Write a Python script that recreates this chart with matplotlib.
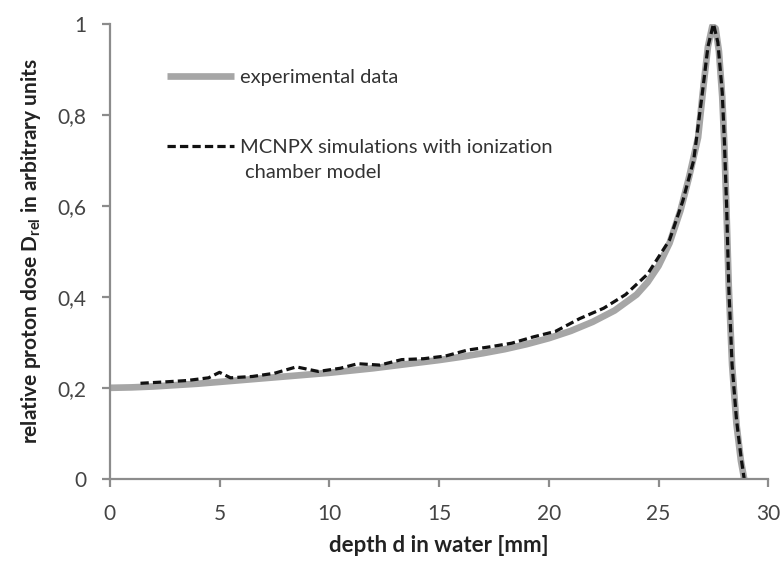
import numpy as np
import matplotlib
matplotlib.use("Agg")
import matplotlib.pyplot as plt

plt.rcParams['font.family'] = ['Lato', 'DejaVu Sans']

# measured depth dose (ionization chamber in water)
exp_depth = [0.0, 1.0, 2.0, 3.0, 4.0, 5.0, 6.0, 7.0, 8.0, 9.0, 10.0, 11.0, 12.0,
             13.0, 14.0, 15.0, 16.0, 17.0, 18.0, 19.0, 20.0, 21.0, 22.0, 23.0,
             24.0, 24.5, 25.0, 25.5, 26.0, 26.4, 26.8, 27.05, 27.25, 27.45,
             27.6, 27.75, 27.9, 28.0, 28.1, 28.2, 28.35, 28.55, 28.75, 28.9]
exp_dose = [0.200, 0.201, 0.203, 0.206, 0.209, 0.213, 0.217, 0.221, 0.225, 0.229,
            0.233, 0.238, 0.243, 0.249, 0.255, 0.261, 0.268, 0.276, 0.285, 0.296,
            0.309, 0.325, 0.345, 0.370, 0.405, 0.432, 0.468, 0.518, 0.590, 0.665,
            0.750, 0.865, 0.950, 0.995, 0.990, 0.940, 0.840, 0.730, 0.580, 0.420,
            0.250, 0.120, 0.040, 0.000]

# MCNPX simulation with ionization chamber model
sim_depth = [1.4, 2.5, 3.5, 4.5, 5.0, 5.5, 6.5, 7.5, 8.5, 9.5, 10.5, 11.3, 12.3,
             13.3, 14.3, 15.3, 16.3, 17.3, 18.3, 19.3, 20.3, 21.4, 22.5, 23.5,
             24.5, 25.5, 26.1, 26.6, 27.0, 27.25, 27.5, 27.7, 27.9, 28.0, 28.1,
             28.2, 28.35, 28.55, 28.75, 28.9]
sim_dose = [0.210, 0.213, 0.216, 0.222, 0.234, 0.222, 0.225, 0.232, 0.246, 0.236,
            0.243, 0.253, 0.250, 0.262, 0.264, 0.270, 0.283, 0.290, 0.298, 0.312,
            0.324, 0.352, 0.375, 0.405, 0.450, 0.525, 0.610, 0.700, 0.850, 0.950,
            1.000, 0.960, 0.850, 0.740, 0.600, 0.420, 0.250, 0.130, 0.050, 0.000]

x_ticks = [0, 5, 10, 15, 20, 25, 30]
y_ticks = [0, 0.2, 0.4, 0.6, 0.8, 1.0]
y_tick_labels = ["0", "0,2", "0,4", "0,6", "0,8", "1"]

fig = plt.figure(figsize=(7.84, 5.68), dpi=100)
ax = fig.add_axes([0.140, 0.157, 0.840, 0.801])

ax.plot(exp_depth, exp_dose, color="#a6a6a6", lw=4.8, solid_capstyle="butt",
        label="experimental data")
ax.plot(sim_depth, sim_dose, color="#111111", lw=2.3, dashes=(2.6, 1.3),
        label="MCNPX simulations with ionization")

ax.set_xlim(0, 30)
ax.set_ylim(0, 1)
ax.set_xticks(x_ticks)
ax.set_xticklabels([str(t) for t in x_ticks])
ax.set_yticks(y_ticks)
ax.set_yticklabels(y_tick_labels)

for side in ("top", "right"):
    ax.spines[side].set_visible(False)
for side in ("left", "bottom"):
    ax.spines[side].set_color("#8c8c8c")
    ax.spines[side].set_linewidth(1.6)
ax.tick_params(direction="out", length=6, width=1.6, color="#8c8c8c",
               labelsize=15, labelcolor="#444444")
ax.tick_params(axis="x", pad=12)
ax.tick_params(axis="y", pad=11)

ax.set_xlabel("depth d in water [mm]", fontsize=16, fontweight="bold",
              color="#222222", labelpad=8)
ax.set_ylabel(r"relative proton dose D$_{\mathregular{rel}}$ in arbitrary units",
              fontsize=15, fontweight="bold", color="#222222", labelpad=10)

leg = ax.legend(loc="upper left", bbox_to_anchor=(0.075, 0.918), frameon=False,
                fontsize=14.5, handlelength=3.3, handletextpad=0.3,
                labelspacing=2.6, borderaxespad=0)
for t in leg.get_texts():
    t.set_color("#333333")
ax.text(0.205, 0.6725, "chamber model", transform=ax.transAxes, fontsize=14.5,
        color="#333333", va="center", ha="left")

fig.savefig("out.png", dpi=100)
